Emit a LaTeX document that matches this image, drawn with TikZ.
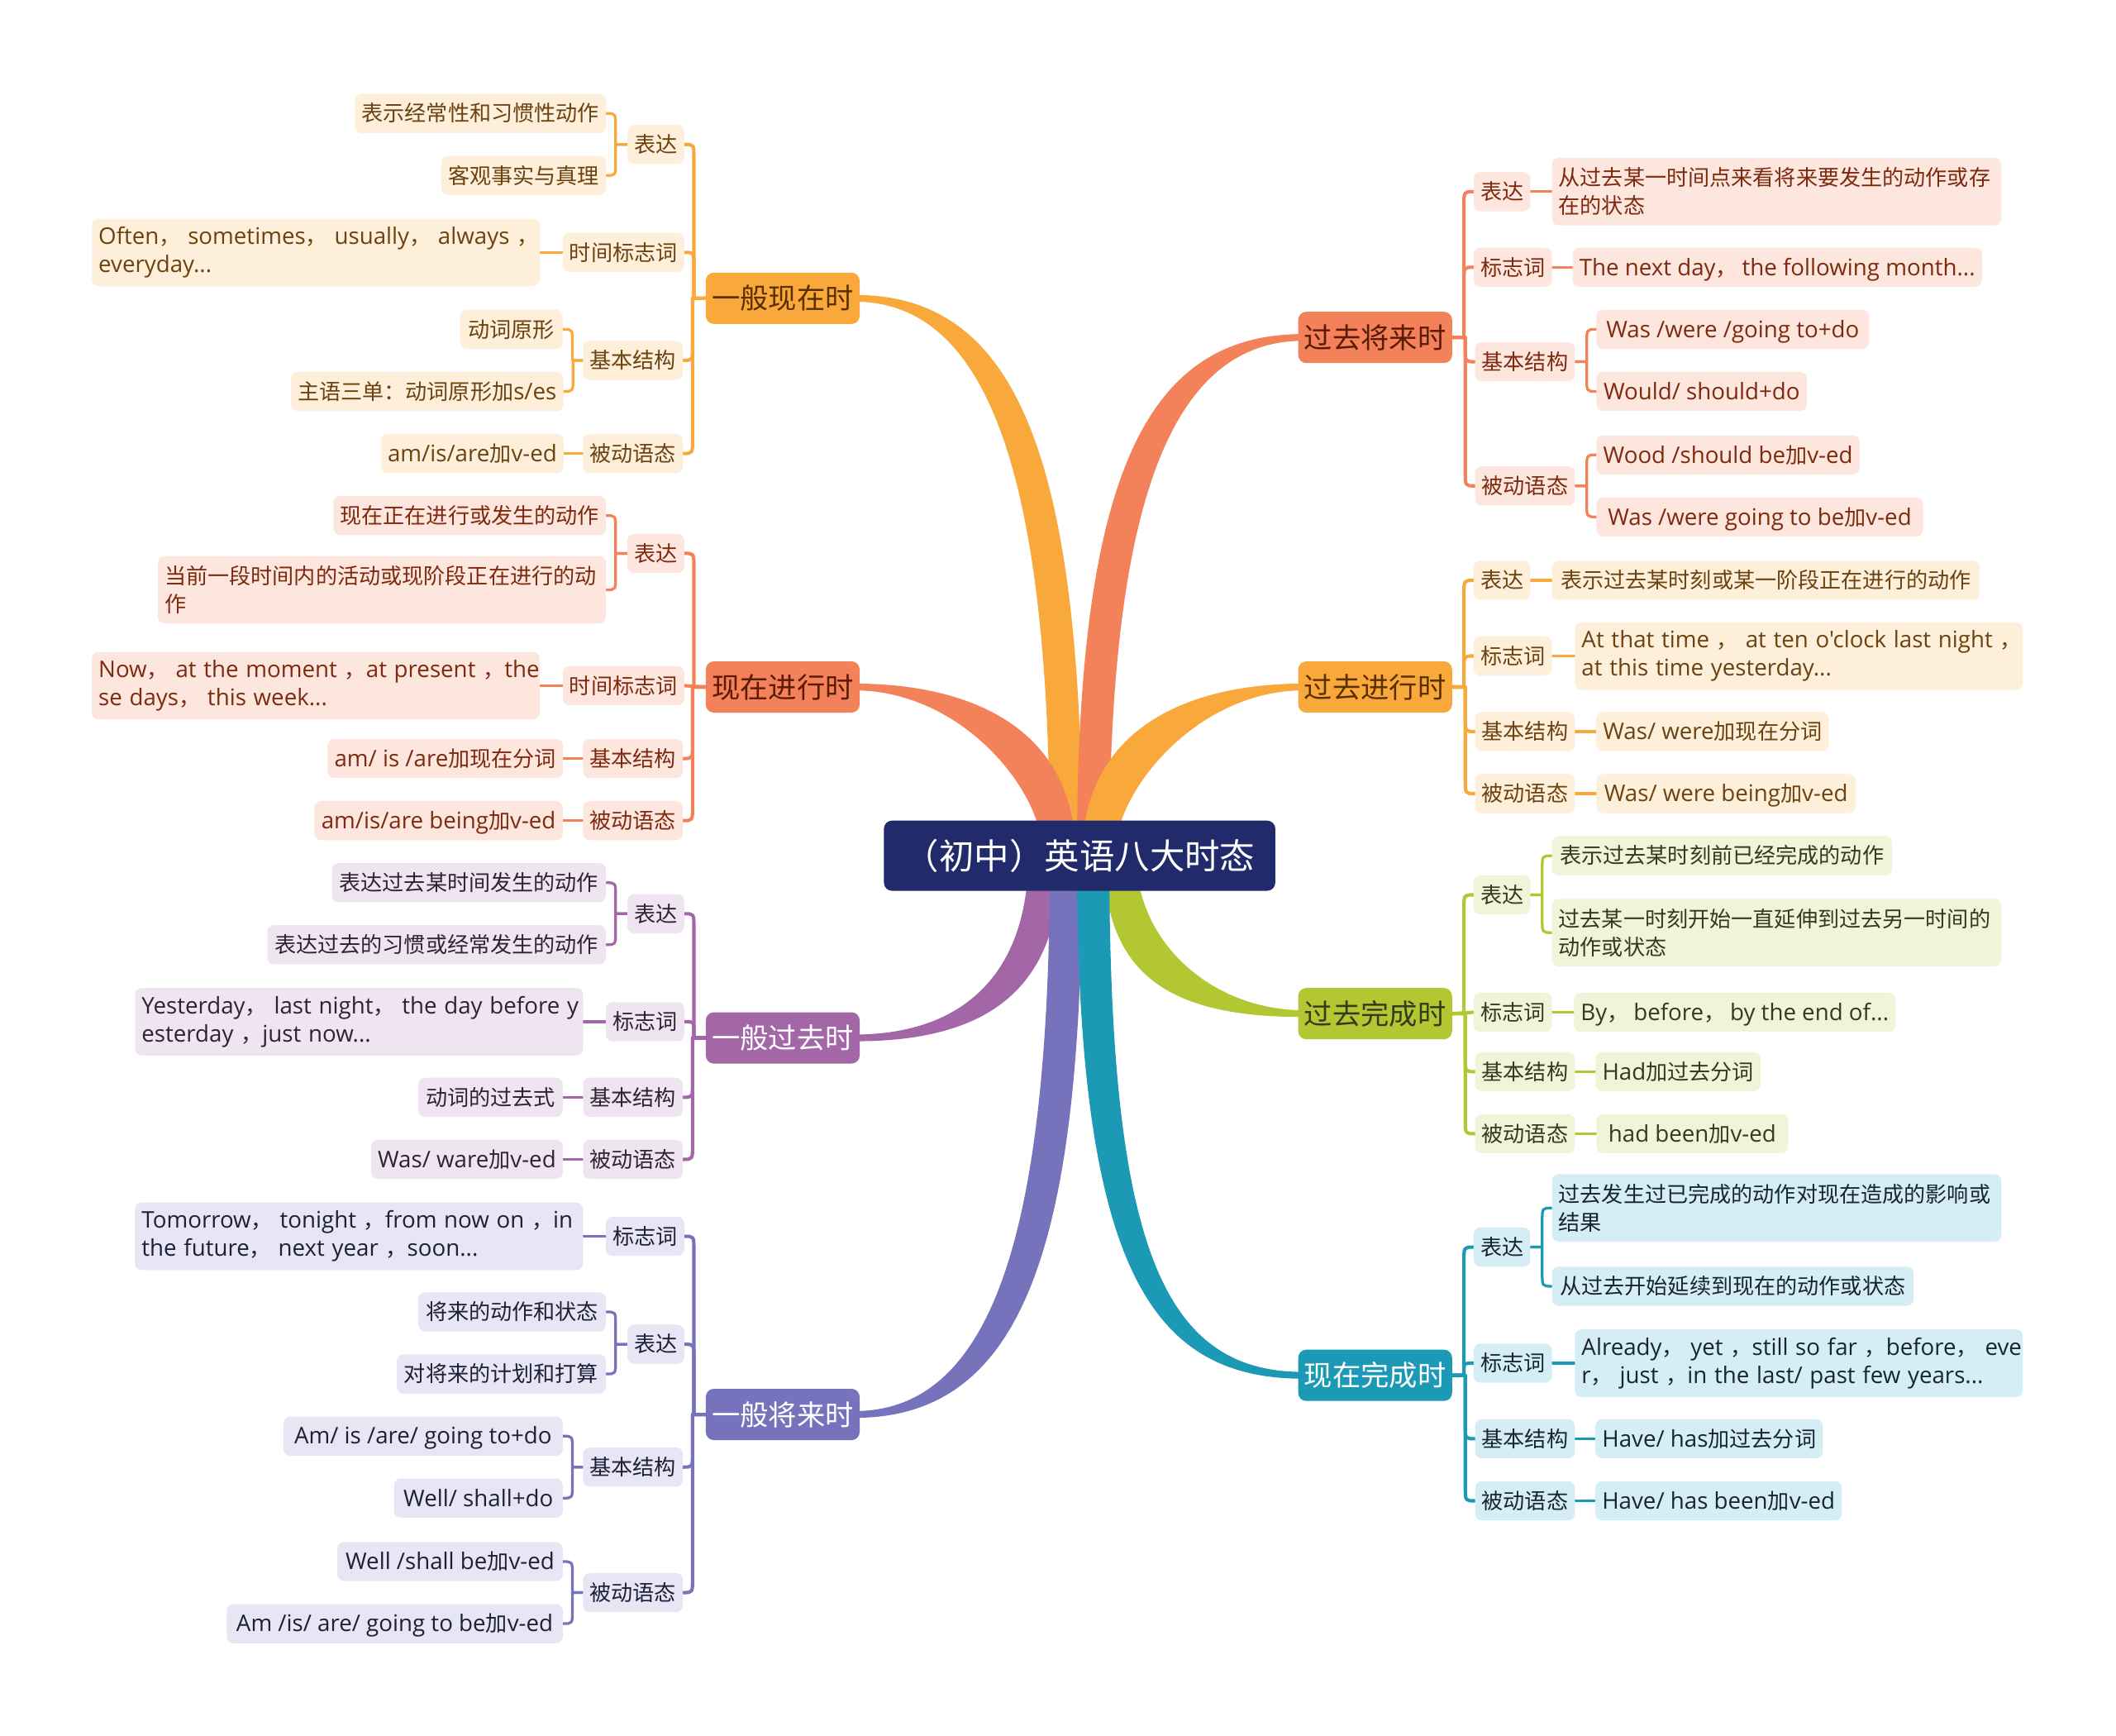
\documentclass[tikz,border=0pt]{standalone}
\usepackage{fontspec}
\setmainfont{Noto Sans CJK SC}
\newfontfamily\cjkfont{Noto Sans CJK SC}
\newfontfamily\latinfont{Open Sans}[Scale=1.06]
% switch to Open Sans for Latin runs, Noto Sans CJK SC for CJK runs
\XeTeXinterchartokenstate=1
\chardef\CJKcls=50
\newcount\cjkc
\cjkc="4E00 \loop \XeTeXcharclass\cjkc=\CJKcls \advance\cjkc by 1 \ifnum\cjkc<"A000 \repeat
\cjkc="3000 \loop \XeTeXcharclass\cjkc=\CJKcls \advance\cjkc by 1 \ifnum\cjkc<"3040 \repeat
\cjkc="FF00 \loop \XeTeXcharclass\cjkc=\CJKcls \advance\cjkc by 1 \ifnum\cjkc<"FFF0 \repeat
\XeTeXinterchartoks 0 \CJKcls = {\cjkfont}
\XeTeXinterchartoks 4095 \CJKcls = {\cjkfont}
\XeTeXinterchartoks \CJKcls 0 = {\latinfont}
\XeTeXinterchartoks 4095 0 = {\latinfont}
\usetikzlibrary{calc}
\pgfdeclarelayer{bgfill}
\pgfdeclarelayer{conn}
\pgfsetlayers{bgfill,conn,main}
\definecolor{navy}{HTML}{212A6B}
\definecolor{oM}{HTML}{F9A93B}
\definecolor{oL}{HTML}{FDEFD9}
\definecolor{oT}{HTML}{6B4210}
\definecolor{oMT}{HTML}{5A3000}
\definecolor{cM}{HTML}{F3815A}
\definecolor{cL}{HTML}{FDE6DE}
\definecolor{cT}{HTML}{7D2A0E}
\definecolor{cMT}{HTML}{5A1A05}
\definecolor{pM}{HTML}{A367A8}
\definecolor{pL}{HTML}{EFE5F0}
\definecolor{pT}{HTML}{2E2430}
\definecolor{sM}{HTML}{7673BC}
\definecolor{sL}{HTML}{E7E6F4}
\definecolor{sT}{HTML}{1F1F3A}
\definecolor{gM}{HTML}{B3C733}
\definecolor{gL}{HTML}{F0F4D9}
\definecolor{gT}{HTML}{353A1C}
\definecolor{tM}{HTML}{1C99B5}
\definecolor{tL}{HTML}{D5EEF5}
\definecolor{tT}{HTML}{17262E}
\newcommand{\fleaf}{\fontsize{16pt}{21pt}\selectfont}
\newcommand{\fmain}{\fontsize{21pt}{25pt}\selectfont}
\newcommand{\ftitle}{\fontsize{26pt}{30pt}\selectfont}
\newcommand{\hookL}[4]{%
  \coordinate (hk) at ($(#3.east)+(7,0)$);
  \draw[#1] (#2.west) -- (hk |- #2.west) -- ($(hk)+(0,#4)$) .. controls (hk) .. (#3.east);}
\newcommand{\hookR}[4]{%
  \coordinate (hk) at ($(#3.west)+(-7,0)$);
  \draw[#1] (#2.east) -- (hk |- #2.east) -- ($(hk)+(0,#4)$) .. controls (hk) .. (#3.west);}
\newcommand{\strL}[3]{\draw[#1] (#2.west) -- (#3.east);}
\newcommand{\strR}[3]{\draw[#1] (#2.east) -- (#3.west);}
\tikzset{
  leafbox/.style={rounded corners=5pt, inner xsep=5pt, inner ysep=0pt, minimum height=29pt, text height=14pt, text depth=2pt, font=\fleaf},
  twobox/.style={rounded corners=5pt, inner xsep=5pt, inner ysep=0pt, minimum height=50pt, align=left, font=\fleaf},
  mainbox/.style={rounded corners=6pt, inner sep=0pt, minimum width=114pt, minimum height=38pt, text height=18pt, text depth=2pt, font=\fmain},
  boxO/.style={leafbox, fill=oL, text=oT}, twoO/.style={twobox, fill=oL, text=oT},
  boxC/.style={leafbox, fill=cL, text=cT}, twoC/.style={twobox, fill=cL, text=cT},
  boxP/.style={leafbox, fill=pL, text=pT}, twoP/.style={twobox, fill=pL, text=pT},
  boxS/.style={leafbox, fill=sL, text=sT}, twoS/.style={twobox, fill=sL, text=sT},
  boxG/.style={leafbox, fill=gL, text=gT}, twoG/.style={twobox, fill=gL, text=gT},
  boxT/.style={leafbox, fill=tL, text=tT}, twoT/.style={twobox, fill=tL, text=tT},
  lk/.style={line width=2.5pt, line cap=round, line join=round},
  lt/.style={line width=2pt, line cap=round, line join=round},
}
\begin{document}
\begin{tikzpicture}[x=1pt,y=-1pt]
\begin{pgfonlayer}{bgfill}
\fill[white] (0,0) rectangle (1568,1286);
\end{pgfonlayer}
\useasboundingbox (0,0) rectangle (1568,1286);

% centre
\node[fill=navy, text=white, rounded corners=6pt, inner sep=0pt, minimum width=290pt, minimum height=52pt, text height=22pt, text depth=2pt, font=\ftitle] (root) at (800,634) {（初中）英语八大时态};

% ---------- A 一般现在时 ----------
\node[mainbox, fill=oM, text=oMT] (A) at (580,221) {一般现在时};
\node[boxO, minimum width=40] (A1) at (486,107) {表达};
\node[boxO, minimum width=88] (A2) at (462,187) {时间标志词};
\node[boxO, minimum width=74] (A3) at (469,267) {基本结构};
\node[boxO, minimum width=74] (A4) at (469,336) {被动语态};
\node[boxO, minimum width=186] (A11) at (356,84) {表示经常性和习惯性动作};
\node[boxO, minimum width=122] (A12) at (388,130) {客观事实与真理};
\node[twoO, text width=322pt] (A21) at (234,187) {\mbox{Often， sometimes， usually， always ，}\\\mbox{everyday...}};
\node[boxO, minimum width=76] (A31) at (379,244) {动词原形};
\node[boxO, minimum width=201] (A32) at (316.5,290) {主语三单：动词原形加s/es};
\node[boxO, minimum width=134] (A41) at (350,336) {am/is/are加v-ed};

% ---------- B 现在进行时 ----------
\node[mainbox, fill=cM, text=cMT] (B) at (580,509) {现在进行时};
\node[boxC, minimum width=40] (B1) at (486,410) {表达};
\node[boxC, minimum width=88] (B2) at (462,508) {时间标志词};
\node[boxC, minimum width=74] (B3) at (469,562) {基本结构};
\node[boxC, minimum width=74] (B4) at (469,608) {被动语态};
\node[boxC, minimum width=202] (B11) at (348,382) {现在正在进行或发生的动作};
\node[twoC, text width=322pt] (B12) at (283,437) {\mbox{当前一段时间内的活动或现阶段正在进行的动}\\\mbox{作}};
\node[twoC, text width=322pt] (B21) at (234,508) {\mbox{Now， at the moment ，at present ，the}\\\mbox{se days， this week...}};
\node[boxC, minimum width=174] (B31) at (330,562) {am/ is /are加现在分词};
\node[boxC, minimum width=184] (B41) at (325,608) {am/is/are being加v-ed};

% ---------- C 一般过去时 ----------
\node[mainbox, fill=pM, text=white] (C) at (580,769) {一般过去时};
\node[boxP, minimum width=40] (C1) at (486,677) {表达};
\node[boxP, minimum width=56] (C2) at (478,757) {标志词};
\node[boxP, minimum width=74] (C3) at (469,813) {基本结构};
\node[boxP, minimum width=74] (C4) at (469,859) {被动语态};
\node[boxP, minimum width=203] (C11) at (347.5,654) {表达过去某时间发生的动作};
\node[boxP, minimum width=251] (C12) at (323.5,700) {表达过去的习惯或经常发生的动作};
\node[twoP, text width=322pt] (C21) at (266,757) {\mbox{Yesterday， last night， the day before y}\\\mbox{esterday ，just now...}};
\node[boxP, minimum width=107] (C31) at (363.5,813) {动词的过去式};
\node[boxP, minimum width=142] (C41) at (346,859) {Was/ ware加v-ed};

% ---------- D 一般将来时 ----------
\node[mainbox, fill=sM, text=white] (D) at (580,1048) {一般将来时};
\node[boxS, minimum width=56] (D1) at (478,916) {标志词};
\node[boxS, minimum width=40] (D2) at (486,996) {表达};
\node[boxS, minimum width=74] (D3) at (469,1087) {基本结构};
\node[boxS, minimum width=74] (D4) at (469,1180) {被动语态};
\node[twoS, text width=322pt] (D11) at (266,916) {\mbox{Tomorrow， tonight ，from now on ，in}\\\mbox{the future， next year ，soon...}};
\node[boxS, minimum width=139] (D21) at (379.5,972) {将来的动作和状态};
\node[boxS, minimum width=155] (D22) at (371.5,1018) {对将来的计划和打算};
\node[boxS, minimum width=207] (D31) at (313.5,1064) {Am/ is /are/ going to+do};
\node[boxS, minimum width=125] (D32) at (354.5,1110) {Well/ shall+do};
\node[boxS, minimum width=167] (D41) at (333.5,1157) {Well /shall be加v-ed};
\node[boxS, minimum width=249] (D42) at (292.5,1203) {Am /is/ are/ going to be加v-ed};

% ---------- E 过去将来时 ----------
\node[mainbox, fill=cM, text=cMT] (E) at (1019,250) {过去将来时};
\node[boxC, minimum width=40] (E1) at (1113,142) {表达};
\node[boxC, minimum width=56] (E2) at (1121,198) {标志词};
\node[boxC, minimum width=74] (E3) at (1130,268) {基本结构};
\node[boxC, minimum width=74] (E4) at (1130,360) {被动语态};
\node[twoC, text width=323pt] (E11) at (1316.5,142) {\mbox{从过去某一时间点来看将来要发生的动作或存}\\\mbox{在的状态}};
\node[boxC, minimum width=300] (E21) at (1317,198) {The next day， the following month...};
\node[boxC, minimum width=202] (E31) at (1284,244) {Was /were /going to+do};
\node[boxC, minimum width=156] (E32) at (1261,290) {Would/ should+do};
\node[boxC, minimum width=195] (E41) at (1280.5,337) {Wood /should be加v-ed};
\node[boxC, minimum width=242] (E42) at (1304,383) {Was /were going to be加v-ed};

% ---------- F 过去进行时 ----------
\node[mainbox, fill=oM, text=oMT] (F) at (1019,509) {过去进行时};
\node[boxO, minimum width=40] (F1) at (1113,430) {表达};
\node[boxO, minimum width=56] (F2) at (1121,486) {标志词};
\node[boxO, minimum width=74] (F3) at (1130,542) {基本结构};
\node[boxO, minimum width=74] (F4) at (1130,588) {被动语态};
\node[boxO, minimum width=317] (F11) at (1308.5,430) {表示过去某时刻或某一阶段正在进行的动作};
\node[twoO, text width=322pt] (F21) at (1333,486) {\mbox{At that time ， at ten o'clock last night ，}\\\mbox{at this time yesterday...}};
\node[boxO, minimum width=172] (F31) at (1269,542) {Was/ were加现在分词};
\node[boxO, minimum width=192] (F41) at (1279,588) {Was/ were being加v-ed};

% ---------- G 过去完成时 ----------
\node[mainbox, fill=gM, text=gT] (G) at (1019,751) {过去完成时};
\node[boxG, minimum width=40] (G1) at (1113,663) {表达};
\node[boxG, minimum width=56] (G2) at (1121,750) {标志词};
\node[boxG, minimum width=74] (G3) at (1130,794) {基本结构};
\node[boxG, minimum width=74] (G4) at (1130,840) {被动语态};
\node[boxG, minimum width=252] (G11) at (1276,634) {表示过去某时刻前已经完成的动作};
\node[twoG, text width=323pt] (G12) at (1316.5,691) {\mbox{过去某一时刻开始一直延伸到过去另一时间的}\\\mbox{动作或状态}};
\node[boxG, minimum width=237] (G21) at (1285.5,750) {By， before， by the end of...};
\node[boxG, minimum width=121] (G31) at (1243.5,794) {Had加过去分词};
\node[boxG, minimum width=142] (G41) at (1254,840) {had been加v-ed};

% ---------- H 现在完成时 ----------
\node[mainbox, fill=tM, text=white] (H) at (1019,1019) {现在完成时};
\node[boxT, minimum width=40] (H1) at (1113,924) {表达};
\node[boxT, minimum width=56] (H2) at (1121,1010) {标志词};
\node[boxT, minimum width=74] (H3) at (1130,1066) {基本结构};
\node[boxT, minimum width=74] (H4) at (1130,1112) {被动语态};
\node[twoT, text width=323pt] (H11) at (1316.5,895) {\mbox{过去发生过已完成的动作对现在造成的影响或}\\\mbox{结果}};
\node[boxT, minimum width=268] (H12) at (1284,953) {从过去开始延续到现在的动作或状态};
\node[twoT, text width=322pt] (H21) at (1333,1010) {\mbox{Already， yet ，still so far ，before， eve}\\\mbox{r， just ，in the last/ past few years...}};
\node[boxT, minimum width=167] (H31) at (1266.5,1066) {Have/ has加过去分词};
\node[boxT, minimum width=181] (H41) at (1273.5,1112) {Have/ has been加v-ed};

\begin{pgfonlayer}{conn}
% tapered main connectors
\fill[oM] ($(A.east)+(-4,-2.5)$) .. controls (750,218.5) and (802,330) .. (802,634) -- (778,634) .. controls (778,360) and (735,223.5) .. ($(A.east)+(-4,2.5)$) -- cycle;
\fill[cM] ($(E.west)+(4,-2.5)$) .. controls (850,247.5) and (798,350) .. (798,634) -- (822,634) .. controls (822,380) and (865,252.5) .. ($(E.west)+(4,2.5)$) -- cycle;
\fill[cM] ($(B.east)+(-4,-2.5)$) .. controls (720,506.5) and (797,540) .. (797,634) -- (773,634) .. controls (773,585) and (712,511.5) .. ($(B.east)+(-4,2.5)$) -- cycle;
\fill[oM] ($(F.west)+(4,-2.5)$) .. controls (880,506.5) and (802,540) .. (802,634) -- (826,634) .. controls (826,585) and (888,511.5) .. ($(F.west)+(4,2.5)$) -- cycle;
\fill[pM] ($(C.east)+(-4,-2.5)$) .. controls (715,766.5) and (762,720) .. (762,634) -- (786,634) .. controls (786,735) and (730,771.5) .. ($(C.east)+(-4,2.5)$) -- cycle;
\fill[sM] ($(D.east)+(-4,-2.5)$) .. controls (740,1045.5) and (778,900) .. (778,634) -- (802,634) .. controls (802,920) and (760,1050.5) .. ($(D.east)+(-4,2.5)$) -- cycle;
\fill[gM] ($(G.west)+(4,-2.5)$) .. controls (900,748.5) and (842,700) .. (842,634) -- (818,634) .. controls (818,725) and (870,753.5) .. ($(G.west)+(4,2.5)$) -- cycle;
\fill[tM] ($(H.west)+(4,-2.5)$) .. controls (860,1016.5) and (822,920) .. (822,634) -- (798,634) .. controls (798,935) and (850,1021.5) .. ($(H.west)+(4,2.5)$) -- cycle;

% A
\hookL{lk,draw=oM}{A}{A1}{10}
\hookL{lk,draw=oM}{A}{A2}{10}
\hookL{lk,draw=oM}{A}{A3}{-10}
\hookL{lk,draw=oM}{A}{A4}{-10}
\hookL{lt,draw=oM}{A1}{A11}{10}
\hookL{lt,draw=oM}{A1}{A12}{-10}
\strL{lt,draw=oM}{A2}{A21}
\hookL{lt,draw=oM}{A3}{A31}{10}
\hookL{lt,draw=oM}{A3}{A32}{-10}
\strL{lt,draw=oM}{A4}{A41}
% B
\hookL{lk,draw=cM}{B}{B1}{10}
\strL{lk,draw=cM}{B}{B2}
\hookL{lk,draw=cM}{B}{B3}{-10}
\hookL{lk,draw=cM}{B}{B4}{-10}
\hookL{lt,draw=cM}{B1}{B11}{10}
\hookL{lt,draw=cM}{B1}{B12}{-10}
\strL{lt,draw=cM}{B2}{B21}
\strL{lt,draw=cM}{B3}{B31}
\strL{lt,draw=cM}{B4}{B41}
% C
\hookL{lk,draw=pM}{C}{C1}{10}
\hookL{lk,draw=pM}{C}{C2}{6}
\hookL{lk,draw=pM}{C}{C3}{-10}
\hookL{lk,draw=pM}{C}{C4}{-10}
\hookL{lt,draw=pM}{C1}{C11}{10}
\hookL{lt,draw=pM}{C1}{C12}{-10}
\strL{lt,draw=pM}{C2}{C21}
\strL{lt,draw=pM}{C3}{C31}
\strL{lt,draw=pM}{C4}{C41}
% D
\hookL{lk,draw=sM}{D}{D1}{10}
\hookL{lk,draw=sM}{D}{D2}{10}
\hookL{lk,draw=sM}{D}{D3}{-10}
\hookL{lk,draw=sM}{D}{D4}{-10}
\strL{lt,draw=sM}{D1}{D11}
\hookL{lt,draw=sM}{D2}{D21}{10}
\hookL{lt,draw=sM}{D2}{D22}{-10}
\hookL{lt,draw=sM}{D3}{D31}{10}
\hookL{lt,draw=sM}{D3}{D32}{-10}
\hookL{lt,draw=sM}{D4}{D41}{10}
\hookL{lt,draw=sM}{D4}{D42}{-10}
% E
\hookR{lk,draw=cM}{E}{E1}{10}
\hookR{lk,draw=cM}{E}{E2}{10}
\hookR{lk,draw=cM}{E}{E3}{-10}
\hookR{lk,draw=cM}{E}{E4}{-10}
\strR{lt,draw=cM}{E1}{E11}
\strR{lt,draw=cM}{E2}{E21}
\hookR{lt,draw=cM}{E3}{E31}{10}
\hookR{lt,draw=cM}{E3}{E32}{-10}
\hookR{lt,draw=cM}{E4}{E41}{10}
\hookR{lt,draw=cM}{E4}{E42}{-10}
% F
\hookR{lk,draw=oM}{F}{F1}{10}
\hookR{lk,draw=oM}{F}{F2}{10}
\hookR{lk,draw=oM}{F}{F3}{-10}
\hookR{lk,draw=oM}{F}{F4}{-10}
\strR{lt,draw=oM}{F1}{F11}
\strR{lt,draw=oM}{F2}{F21}
\strR{lt,draw=oM}{F3}{F31}
\strR{lt,draw=oM}{F4}{F41}
% G
\hookR{lk,draw=gM}{G}{G1}{10}
\strR{lk,draw=gM}{G}{G2}
\hookR{lk,draw=gM}{G}{G3}{-10}
\hookR{lk,draw=gM}{G}{G4}{-10}
\hookR{lt,draw=gM}{G1}{G11}{10}
\hookR{lt,draw=gM}{G1}{G12}{-10}
\strR{lt,draw=gM}{G2}{G21}
\strR{lt,draw=gM}{G3}{G31}
\strR{lt,draw=gM}{G4}{G41}
% H
\hookR{lk,draw=tM}{H}{H1}{10}
\hookR{lk,draw=tM}{H}{H2}{4.5}
\hookR{lk,draw=tM}{H}{H3}{-10}
\hookR{lk,draw=tM}{H}{H4}{-10}
\hookR{lt,draw=tM}{H1}{H11}{10}
\hookR{lt,draw=tM}{H1}{H12}{-10}
\strR{lt,draw=tM}{H2}{H21}
\strR{lt,draw=tM}{H3}{H31}
\strR{lt,draw=tM}{H4}{H41}
\end{pgfonlayer}
\end{tikzpicture}
\end{document}
